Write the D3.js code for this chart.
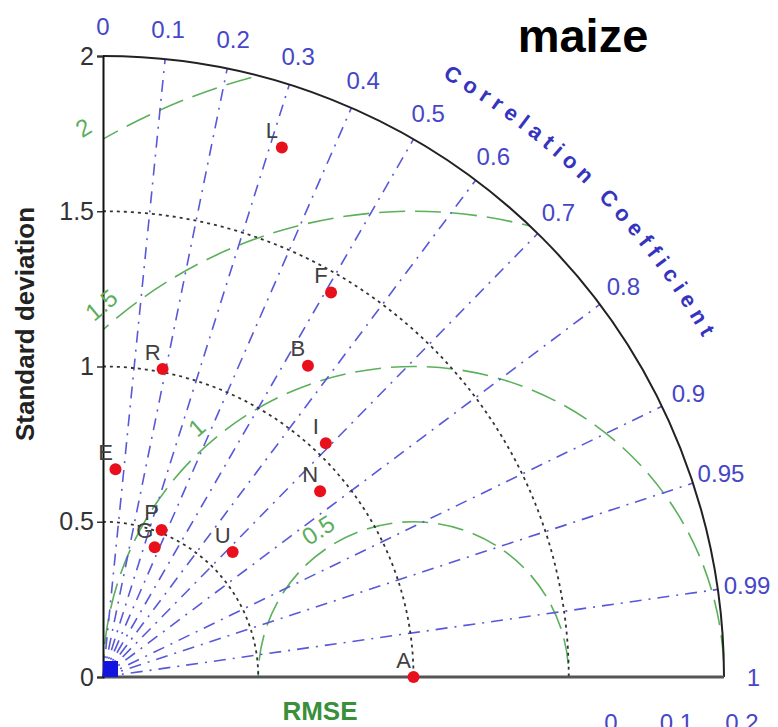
<!DOCTYPE html>
<html>
<head>
<meta charset="utf-8">
<script src="https://cdnjs.cloudflare.com/ajax/libs/d3/7.8.5/d3.min.js"></script>
<style>
body { margin: 0; background: #fff; }
svg { display: block; font-family: "Liberation Sans", Arial, sans-serif; }
</style>
</head>
<body>
<script>
// model labels and their statistics
var models   = ["L", "F", "B", "R", "I", "E", "N", "P", "G", "U", "A"];
var stdDev   = [1.80, 1.44, 1.20, 1.01, 1.04, 0.67, 0.92, 0.51, 0.45, 0.58, 1.00];
var corrCoef = [0.32, 0.51, 0.55, 0.19, 0.69, 0.06, 0.76, 0.37, 0.37, 0.72, 1.00];

var refStd = 1.0;
var stdTicks = [0, 0.5, 1, 1.5, 2];
var stdCircles = [0.5, 1, 1.5];
var rmseCircles = [0.5, 1, 1.5, 2];
var corrLines = [0.1, 0.2, 0.3, 0.4, 0.5, 0.6, 0.7, 0.8, 0.9, 0.95, 0.99];
var corrLabels = [0, 0.1, 0.2, 0.3, 0.4, 0.5, 0.6, 0.7, 0.8, 0.9, 0.95, 0.99, 1];
var lowerLabels = [0, 0.1, 0.2];   // labels of the next diagram, cut by the border

var width = 778, height = 727;
var ox = 103, oy = 677, R = 621;   // origin and radius of std = 2

const svg = d3.select("body")
    .append("svg")
    .attr("width", width)
    .attr("height", height);

var x = d3.scaleLinear().domain([0, 2]).range([ox, ox + R]);
var y = d3.scaleLinear().domain([0, 2]).range([oy, oy - R]);
var r = d3.scaleLinear().domain([0, 2]).range([0, R]);

function px(s, c) { return x(s * c); }
function py(s, c) { return y(s * Math.sqrt(Math.max(0, 1 - c * c))); }

// quarter disk used to clip the rmse circles
var quarter = d3.path();
quarter.moveTo(ox, oy);
quarter.lineTo(ox, oy - R);
quarter.arc(ox, oy, R, -Math.PI / 2, 0);
quarter.closePath();

var defs = svg.append("defs");
defs.append("clipPath").attr("id", "quarter")
    .append("path").attr("d", quarter.toString());

// rmse circles around the reference
svg.append("g")
    .attr("clip-path", "url(#quarter)")
    .selectAll("circle")
    .data(rmseCircles)
    .enter().append("circle")
    .attr("cx", x(refStd))
    .attr("cy", y(0))
    .attr("r", function (d) { return r(d); })
    .attr("fill", "none")
    .attr("stroke", "#5cb05c")
    .attr("stroke-width", 1.6)
    .attr("stroke-dasharray", "26,10");

// correlation rays
svg.append("g")
    .selectAll("line")
    .data(corrLines)
    .enter().append("line")
    .attr("x1", x(0))
    .attr("y1", y(0))
    .attr("x2", function (d) { return px(2, d); })
    .attr("y2", function (d) { return py(2, d); })
    .attr("stroke", "#5858d8")
    .attr("stroke-width", 1.6)
    .attr("stroke-dasharray", "12,7,2,7");

// std circles (dotted)
svg.append("g")
    .selectAll("path")
    .data(stdCircles)
    .enter().append("path")
    .attr("d", function (d) {
        var p = d3.path();
        p.arc(ox, oy, r(d), -Math.PI / 2, 0);
        return p.toString();
    })
    .attr("fill", "none")
    .attr("stroke", "#333")
    .attr("stroke-width", 1.8)
    .attr("stroke-dasharray", "3,4");

// outer frame
var outer = d3.path();
outer.arc(ox, oy, R, -Math.PI / 2, 0);
svg.append("path")
    .attr("d", outer.toString())
    .attr("fill", "none")
    .attr("stroke", "#222")
    .attr("stroke-width", 2);

svg.append("line")
    .attr("x1", x(0)).attr("y1", y(0))
    .attr("x2", x(2)).attr("y2", y(0))
    .attr("stroke", "#555")
    .attr("stroke-width", 3);

// y axis
var yAxis = svg.append("g")
    .attr("transform", "translate(" + ox + ",0)")
    .call(d3.axisLeft(y).tickValues(stdTicks).tickSize(6).tickPadding(3).tickFormat(d3.format("")));
yAxis.select(".domain").attr("stroke", "#111").attr("stroke-width", 2);
yAxis.selectAll(".tick line").attr("stroke", "#333").attr("stroke-width", 1.5);
yAxis.selectAll(".tick text")
    .attr("fill", "#333")
    .style("font-size", "25px")
    .style("font-family", "'Liberation Sans', Arial, sans-serif");

// reference marker at the origin
svg.append("rect")
    .attr("x", x(0))
    .attr("y", y(0) - 16)
    .attr("width", 15)
    .attr("height", 16)
    .attr("fill", "#1414e0");

// correlation tick labels
var labelR = 2.095;
svg.append("g")
    .selectAll("text")
    .data(corrLabels)
    .enter().append("text")
    .attr("x", function (d) { return px(labelR, d); })
    .attr("y", function (d) { return py(labelR, d); })
    .attr("text-anchor", "middle")
    .attr("dominant-baseline", "central")
    .attr("fill", "#4646c8")
    .style("font-size", "24px")
    .text(function (d) { return d; });

// rmse labels
var rmseLabelDeg = [123, 131, 130, 121];
svg.append("g")
    .selectAll("text")
    .data(rmseCircles)
    .enter().append("text")
    .attr("transform", function (d, i) {
        var a = rmseLabelDeg[i] * Math.PI / 180;
        var rr = r(d) + 20;
        var tx = x(refStd) + rr * Math.cos(a);
        var ty = y(0) - rr * Math.sin(a);
        return "translate(" + tx + "," + ty + ") rotate(" + (90 - rmseLabelDeg[i]) + ")";
    })
    .attr("text-anchor", "middle")
    .attr("dominant-baseline", "central")
    .attr("fill", "#5cae5c")
    .style("font-size", "24px")
    .text(function (d) { return d; });

// model points
var pts = models.map(function (m, i) {
    return { name: m, s: stdDev[i], c: corrCoef[i] };
});

svg.append("g")
    .selectAll("circle")
    .data(pts)
    .enter().append("circle")
    .attr("cx", function (d) { return px(d.s, d.c); })
    .attr("cy", function (d) { return py(d.s, d.c); })
    .attr("r", 6)
    .attr("fill", "#e8101c");

svg.append("g")
    .selectAll("text")
    .data(pts)
    .enter().append("text")
    .attr("x", function (d) { return px(d.s, d.c) - 10; })
    .attr("y", function (d) { return py(d.s, d.c) - 17; })
    .attr("text-anchor", "middle")
    .attr("dominant-baseline", "central")
    .attr("fill", "#404040")
    .style("font-size", "22px")
    .text(function (d) { return d.name; });

// curved title for the correlation axis, one glyph at a time
var title = "Correlation Coefficient";
var titleR = 689, a0 = 60.5, a1 = 29.5;   // degrees
var titleStyle = function (sel) {
    sel.attr("fill", "#3434c0")
        .style("font-size", "22px")
        .style("font-weight", "bold");
};
var probe = svg.append("text").call(titleStyle);
var chars = title.split("").map(function (ch) {
    probe.text(ch === " " ? "\u00a0" : ch);
    return { ch: ch, w: probe.node().getComputedTextLength() };
});
probe.remove();
var total = d3.sum(chars, function (d) { return d.w; });
var arcLen = titleR * (a0 - a1) * Math.PI / 180;
var gap = (arcLen - total) / (chars.length - 1);
var run = 0;
chars.forEach(function (d) {
    d.s = run + d.w / 2;
    run += d.w + gap;
});

svg.append("g")
    .selectAll("text")
    .data(chars.filter(function (d) { return d.ch !== " "; }))
    .enter().append("text")
    .call(titleStyle)
    .attr("text-anchor", "middle")
    .attr("transform", function (d) {
        var deg = a0 - (d.s / titleR) * 180 / Math.PI;
        var a = deg * Math.PI / 180;
        var tx = ox + titleR * Math.cos(a);
        var ty = oy - titleR * Math.sin(a);
        return "translate(" + tx + "," + ty + ") rotate(" + (90 - deg) + ")";
    })
    .text(function (d) { return d.ch; });

// axis titles
svg.append("text")
    .attr("transform", "translate(34,324) rotate(-90)")
    .attr("text-anchor", "middle")
    .attr("fill", "#222")
    .style("font-size", "26px")
    .style("font-weight", "bold")
    .text("Standard deviation");

svg.append("text")
    .attr("x", 320)
    .attr("y", 720)
    .attr("text-anchor", "middle")
    .attr("fill", "#3a903a")
    .style("font-size", "26px")
    .style("font-weight", "bold")
    .text("RMSE");

svg.append("text")
    .attr("x", 583)
    .attr("y", 52)
    .attr("text-anchor", "middle")
    .attr("fill", "#000")
    .style("font-size", "47px")
    .style("font-weight", "bold")
    .text("maize");

// top of the tick labels from the diagram below
var xLower = d3.scaleLinear().domain([0, 0.2]).range([611, 742]);
svg.append("g")
    .selectAll("text")
    .data(lowerLabels)
    .enter().append("text")
    .attr("x", function (d) { return xLower(d); })
    .attr("y", 731)
    .attr("text-anchor", "middle")
    .attr("fill", "#4646c8")
    .style("font-size", "24px")
    .text(function (d) { return d; });
</script>
</body>
</html>
